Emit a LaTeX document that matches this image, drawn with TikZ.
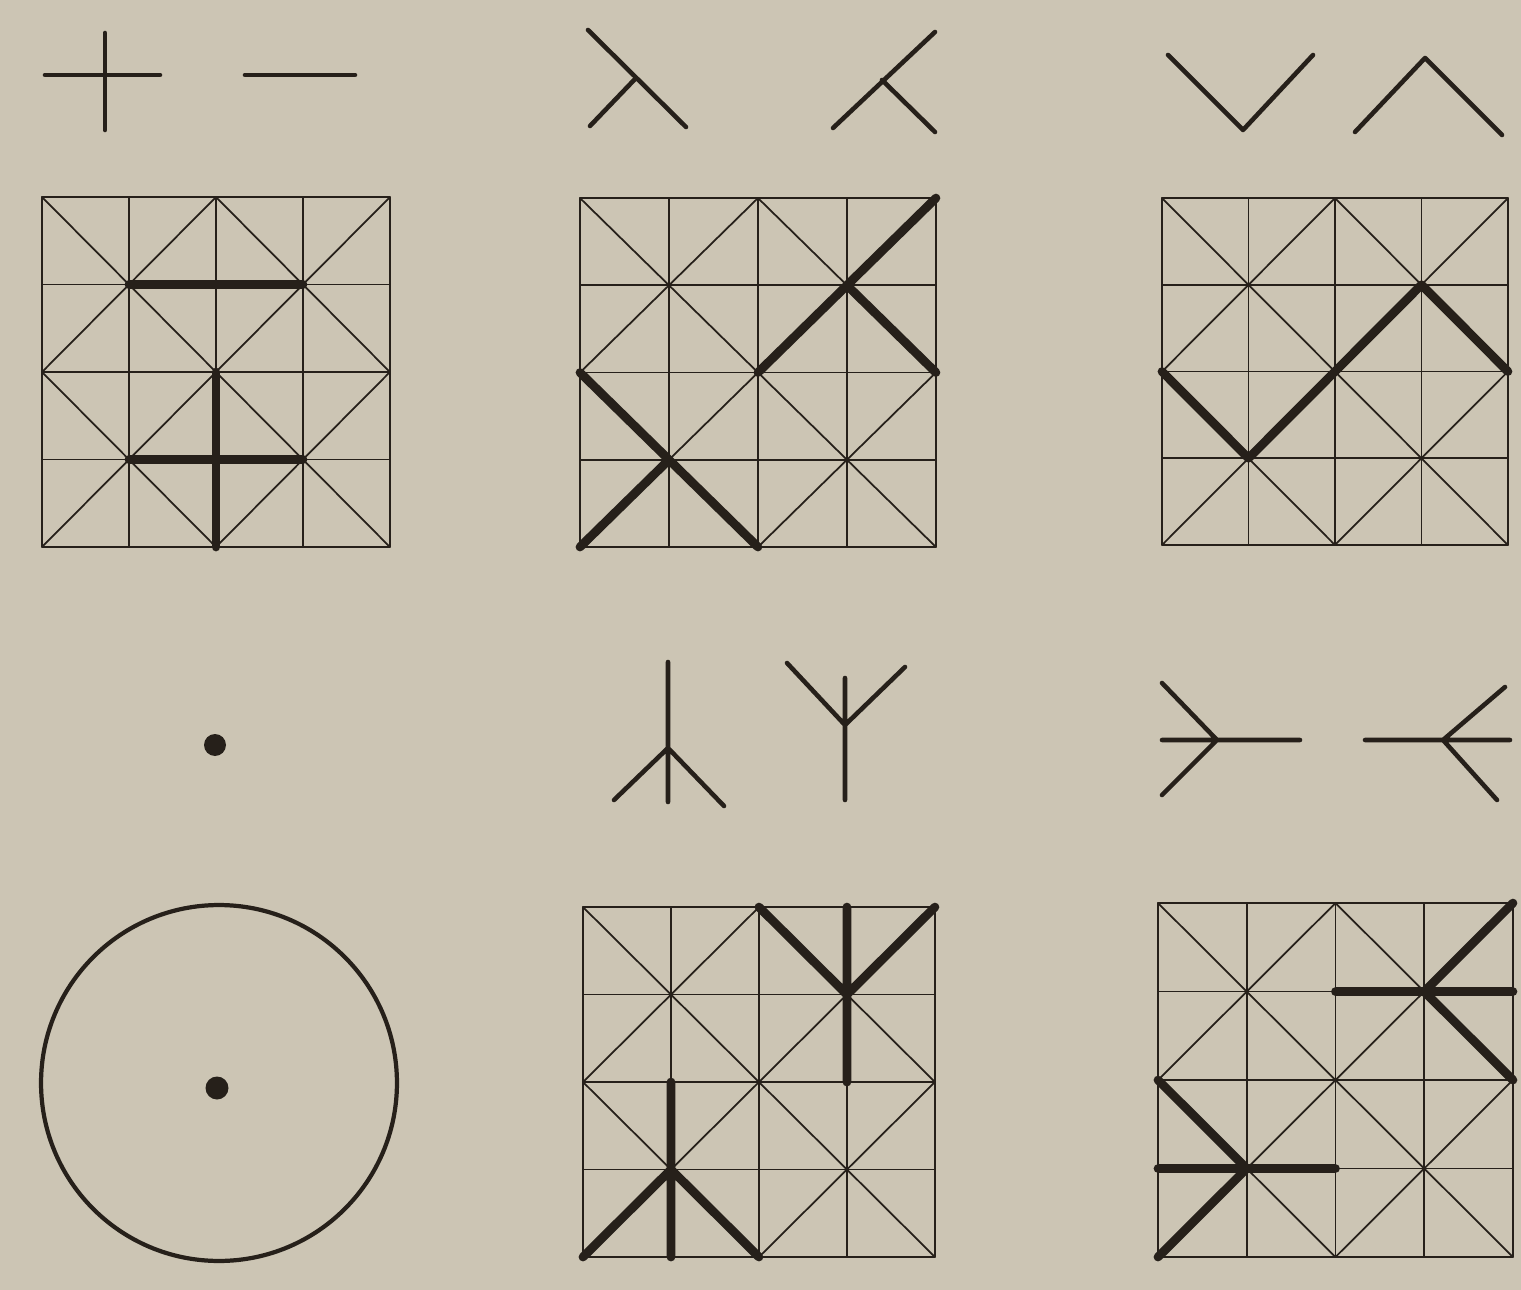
\documentclass[tikz,border=0pt]{standalone}
\begin{document}
\begin{tikzpicture}[x=0.02cm,y=-0.02cm,
  line cap=round, line join=round]
\definecolor{paper}{RGB}{204,197,180}
\definecolor{ink}{RGB}{38,32,26}
\tikzset{
  thinline/.style={draw=ink, line width=1pt},
  borderline/.style={draw=ink, line width=1.4pt},
  heavy/.style={draw=ink, line width=5pt},
  glyph/.style={draw=ink, line width=2.6pt},
  pics/latgrid/.style={code={
    \foreach \i in {1,2,3} {
      \draw[thinline] (\i,0)--(\i,4);
      \draw[thinline] (0,\i)--(4,\i);
    }
    \draw[thinline] (0,0)--(4,4) (0,4)--(4,0) (2,0)--(4,2)--(2,4)--(0,2)--cycle;
    \draw[borderline] (0,0) rectangle (4,4);
  }}
}
\useasboundingbox (0,0) rectangle (1521,1290);
\fill[paper] (0,0) rectangle (1521,1290);

% ---------- top symbols ----------
\draw[glyph] (105,33)--(105,130) (45,75)--(160,75);
\draw[glyph] (245,75)--(355,75);
\draw[glyph] (588,30)--(686,127) (636,78)--(590,126);
\draw[glyph] (935,32)--(833,128) (882,80)--(935,132);
\draw[glyph] (1168,55)--(1243,130)--(1313,55);
\draw[glyph] (1355,132)--(1425,58)--(1502,135);

% ---------- grid 1 ----------
\begin{scope}[shift={(42,547)}, x=1.74cm, y=1.75cm]
  \pic {latgrid};
  \draw[heavy] (1,3)--(3,3);
  \draw[heavy] (1,1)--(3,1) (2,2)--(2,0);
\end{scope}

% ---------- grid 2 ----------
\begin{scope}[shift={(580,547)}, x=1.78cm, y=1.745cm]
  \pic {latgrid};
  \draw[heavy] (4,4)--(2,2) (3,3)--(4,2);
  \draw[heavy] (0,2)--(2,0) (1,1)--(0,0);
\end{scope}

% ---------- grid 3 ----------
\begin{scope}[shift={(1162,545)}, x=1.73cm, y=1.735cm]
  \pic {latgrid};
  \draw[heavy] (0,2)--(1,1)--(3,3)--(4,2);
\end{scope}

% ---------- middle symbols ----------
\fill[ink] (215,745) circle[radius=0.22cm];
\draw[glyph] (668,662)--(668,802) (614,800)--(668,748)--(724,806);
\draw[glyph] (787,663)--(845,725)--(905,667) (845,678)--(845,800);
\draw[glyph] (1162,683)--(1217,740)--(1162,795) (1162,740)--(1300,740);
\draw[glyph] (1365,740)--(1510,740) (1505,687)--(1443,740)--(1497,800);

% ---------- circle ----------
\draw[ink, line width=2.4pt] (219,1083) circle[radius=3.56cm];
\fill[ink] (217,1088) circle[radius=0.23cm];

% ---------- grid 4 ----------
\begin{scope}[shift={(583,1257)}, x=1.76cm, y=1.75cm]
  \pic {latgrid};
  \draw[heavy] (2,4)--(3,3)--(4,4) (3,4)--(3,2);
  \draw[heavy] (0,0)--(1,1)--(2,0) (1,2)--(1,0);
\end{scope}

% ---------- grid 5 ----------
\begin{scope}[shift={(1158,1257)}, x=1.775cm, y=1.77cm]
  \pic {latgrid};
  \draw[heavy] (2,3)--(4,3) (4,4)--(3,3)--(4,2);
  \draw[heavy] (0,1)--(2,1) (0,2)--(1,1)--(0,0);
\end{scope}
\end{tikzpicture}
\end{document}
